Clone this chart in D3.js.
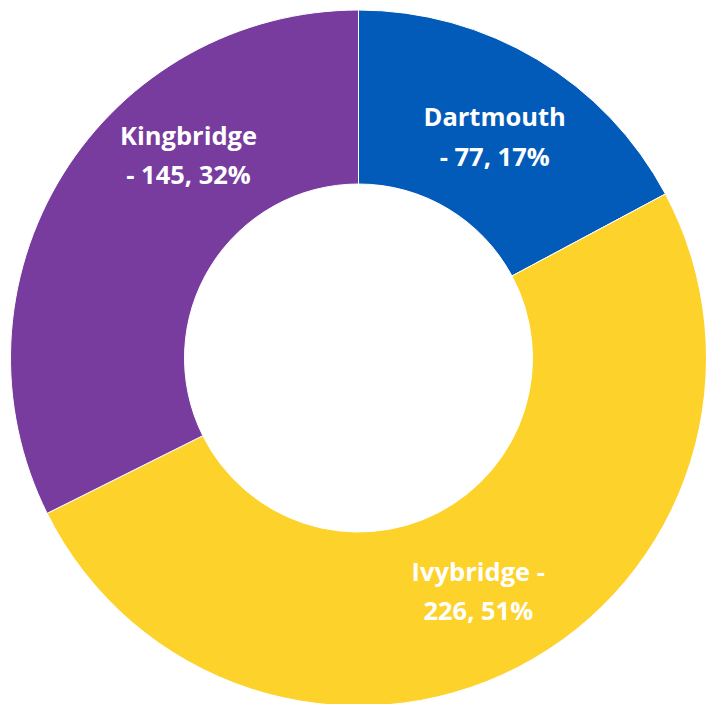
<!DOCTYPE html>
<html>
<head>
<meta charset="utf-8">
<script src="https://cdn.jsdelivr.net/npm/d3@7"></script>
<style>
  body { margin: 0; background: #fff; }
  svg { display: block; }
</style>
</head>
<body>
<script>
var width = 706;
var height = 704;

// data
var towns = ["Dartmouth", "Ivybridge", "Kingbridge"];
var counts = [77, 226, 145];
var percents = ["17%", "51%", "32%"];
var labelLines = [
    ["Dartmouth", "- 77, 17%"],
    ["Ivybridge -", "226, 51%"],
    ["Kingbridge", "- 145, 32%"]
];
var colors = ["#035BB9", "#FDD22A", "#773C9E"];

var cx = 358.5, cy = 358;
var outerR = 348, innerR = 174;
var lineGap = 39.5;

var svg = d3.select("body").append("svg")
    .attr("width", width)
    .attr("height", height);

var g = svg.append("g")
    .attr("transform", "translate(" + cx + "," + cy + ")");

var pie = d3.pie().sort(null).value(function(d) { return d; });
var arcs = pie(counts);

var arc = d3.arc().innerRadius(innerR).outerRadius(outerR);

g.selectAll("path")
    .data(arcs)
    .enter()
    .append("path")
    .attr("d", arc)
    .attr("fill", function(d, i) { return colors[i]; })
    .attr("stroke", "#fff")
    .attr("stroke-width", 1);

// labels sit near the ring centroid; Kingbridge was dragged in the original
var labelShift = [[2, 12], [0, 10.5], [52, -56]];

var labels = g.selectAll("text.lbl")
    .data(arcs)
    .enter()
    .append("text")
    .attr("class", "lbl")
    .attr("transform", function(d, i) {
        var c = arc.centroid(d);
        return "translate(" + (c[0] + labelShift[i][0]) + "," + (c[1] + labelShift[i][1]) + ")";
    })
    .attr("text-anchor", "middle")
    .attr("fill", "#fff")
    .style("font-family", "'Open Sans', Lato, sans-serif")
    .style("font-weight", "bold")
    .style("font-size", "25.5px");

labels.selectAll("tspan")
    .data(function(d, i) { return labelLines[i]; })
    .enter()
    .append("tspan")
    .attr("x", 0)
    .attr("dy", function(d, j) { return j === 0 ? -lineGap / 2 : lineGap; })
    .text(function(d) { return d; });
</script>
</body>
</html>
